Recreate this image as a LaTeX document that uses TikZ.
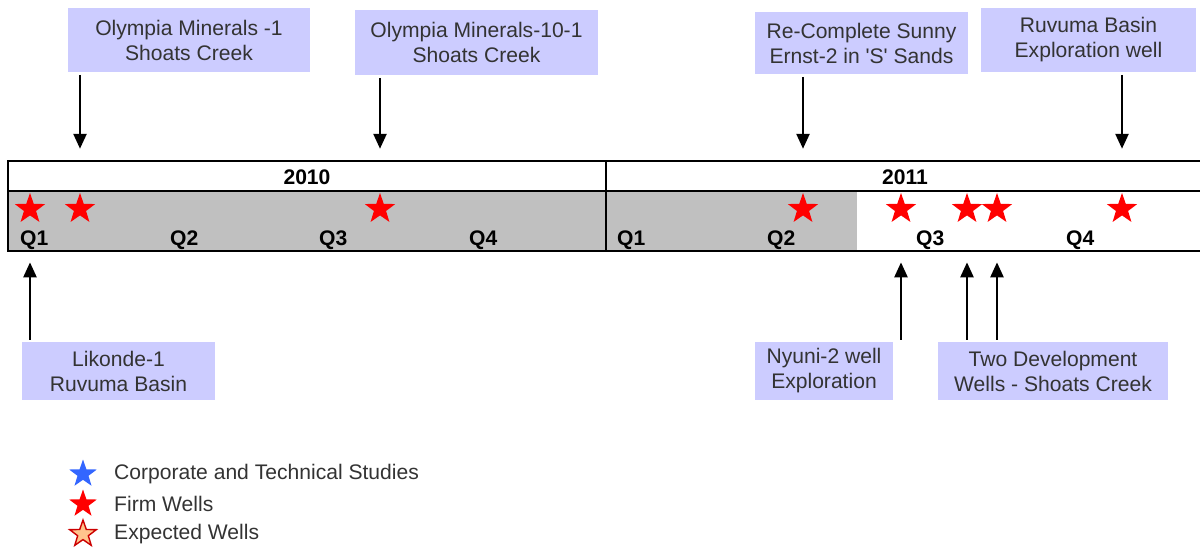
\documentclass[tikz,border=0pt]{standalone}
\usepackage{fontspec}
\setmainfont{Liberation Sans}
\usetikzlibrary{positioning,shapes.geometric,arrows.meta}
\definecolor{lavender}{HTML}{CCCCFF}
\definecolor{bargray}{HTML}{C0C0C0}
\definecolor{firmred}{HTML}{FF0000}
\definecolor{studyblue}{HTML}{3366FF}
\definecolor{expectfill}{HTML}{FFC48C}
\definecolor{inkgray}{HTML}{333333}

\tikzset{
  callout/.style={fill=lavender, align=center, inner sep=0pt, text=inkgray,
    font=\fontsize{12}{14.2}\selectfont},
  well/.style={star, star points=5, star point ratio=2.5, minimum size=0.64cm, inner sep=0pt},
  firm/.style={well, fill=firmred},
  qlabel/.style={anchor=base west, font=\bfseries\fontsize{12}{14}\selectfont},
  pointer/.style={-{Triangle[length=8.5pt,width=7.5pt]}, line width=1.1pt},
  legendtext/.style={anchor=west, text=inkgray, font=\fontsize{12}{14}\selectfont}
}

\begin{document}
\begin{tikzpicture}[x=0.02cm, y=-0.02cm]
\useasboundingbox (0,0) rectangle (1200,551);

% timeline bar
\fill[bargray] (8,191) rectangle (857,251);
\draw[line width=1pt] (1200,161) -| (8,251) -- (1200,251);
\draw[line width=1pt] (8,191) -- (1200,191);
\draw[line width=1pt] (606,161) -- (606,251);
\coordinate (bartop) at (0,161);
\coordinate (barbot) at (0,251);

\node[font=\bfseries\fontsize{12}{14}\selectfont] (y2010) at (307,177) {2010};
\node[font=\bfseries\fontsize{12}{14}\selectfont] (y2011) at (905,177) {2011};

\foreach \qx/\qn [count=\i] in {14/Q1,164/Q2,313/Q3,463/Q4,611/Q1,761/Q2,910/Q3,1060/Q4}
  \node[qlabel] (q\i) at (\qx,245) {\qn};

% firm wells
\foreach \wx [count=\i] in {30,80,380,803,901,967,997,1122}
  \node[firm] (w\i) at (\wx,209) {};

% callouts above
\node[callout, minimum width=4.84cm, minimum height=1.28cm] (olympia1) at (189,40)
  {Olympia Minerals -1\\Shoats Creek};
\node[callout, minimum width=4.86cm, minimum height=1.3cm] (olympia10) at (476.5,42.5)
  {Olympia Minerals-10-1\\Shoats Creek};
\node[callout, minimum width=4.26cm, minimum height=1.24cm] (sunny) at (861.5,43)
  {Re-Complete Sunny\\Ernst-2 in \textquotesingle S\textquotesingle\ Sands};
\node[callout, minimum width=4.3cm, minimum height=1.28cm] (ruvuma) at (1088.5,40)
  {Ruvuma Basin\\Exploration well};

% callouts below
\node[callout, minimum width=3.86cm, minimum height=1.16cm] (likonde) at (118.5,371)
  {Likonde-1\\Ruvuma Basin};
\node[callout, minimum width=2.76cm, minimum height=1.16cm] (nyuni) at (824,371)
  {Nyuni-2 well\\Exploration};
\node[callout, minimum width=4.6cm, minimum height=1.16cm] (twodev) at (1053,371)
  {Two Development\\Wells - Shoats Creek};

% pointers
\foreach \b/\w in {olympia1/w2,olympia10/w3,sunny/w4,ruvuma/w8}
  \draw[pointer, shorten <=1.5pt, shorten >=7pt] (\b.south -| \w) -- (\w |- bartop);
\foreach \b/\w in {likonde/w1,nyuni/w5,twodev/w6,twodev/w7}
  \draw[pointer, shorten <=1pt, shorten >=6.5pt] (\b.north -| \w) -- (\w |- barbot);

% legend
\node[well, fill=studyblue, minimum size=0.58cm] (lgstudy) at (83,474) {};
\node[firm, minimum size=0.58cm] (lgfirm) at (83,504) {};
\node[well, fill=expectfill, draw=firmred!80!black, line width=0.8pt, minimum size=0.56cm] (lgexpect) at (83,534) {};
\node[legendtext] (txstudy) at (108,474) {Corporate and Technical Studies};
\node[legendtext] (txfirm) at (108,504) {Firm Wells};
\node[legendtext] (txexpect) at (108,534) {Expected Wells};
\end{tikzpicture}
\end{document}
